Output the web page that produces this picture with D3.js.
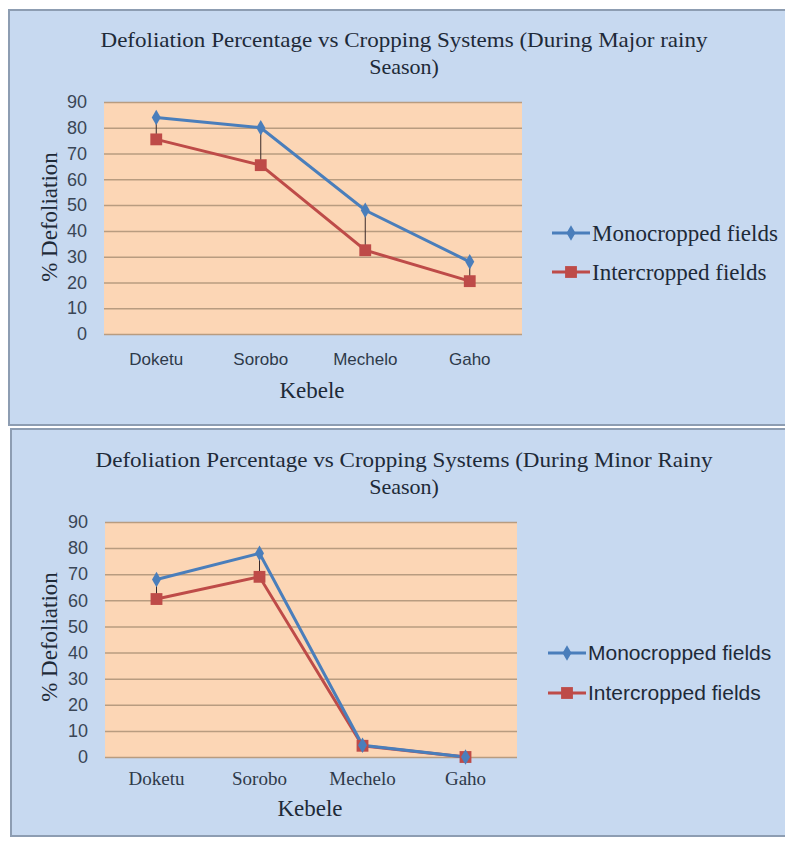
<!DOCTYPE html>
<html><head><meta charset="utf-8">
<script src="https://cdn.jsdelivr.net/npm/d3@7"></script>
<style>body{margin:0;background:#fff;}svg{display:block;}</style>
</head><body>
<svg id="chart" width="785" height="841"></svg>
<script>
const categories = ["Doketu", "Sorobo", "Mechelo", "Gaho"];
const yTicks = [0, 10, 20, 30, 40, 50, 60, 70, 80, 90];
const seriesNames = ["Monocropped fields", "Intercropped fields"];
const majorMono = [84, 80, 48, 28];
const majorInter = [75.5, 65.5, 32.5, 20.5];
const minorMono = [68, 78, 4.5, 0];
const minorInter = [60.5, 69, 4.3, 0];
const titles = [
  ["Defoliation Percentage vs Cropping Systems (During Major rainy", "Season)"],
  ["Defoliation Percentage vs Cropping Systems (During Minor Rainy", "Season)"]
];

const svg = d3.select("#chart");
const serif = "'Liberation Serif','Times New Roman',serif";
const sans = "'Liberation Sans',Arial,sans-serif";
const blue = "#4a7ebb", red = "#be4b48";

function drawChart(cfg) {
  const g = svg.append("g");
  g.append("rect").attr("x", cfg.px).attr("y", cfg.py).attr("width", 800).attr("height", cfg.ph)
    .attr("fill", "#c7d9f0").attr("stroke", "#8d9db2").attr("stroke-width", 2);
  cfg.title.forEach((t, i) => {
    const tt = g.append("text").attr("x", cfg.titleX).attr("y", cfg.titleY + i * 27)
      .attr("text-anchor", "middle").attr("font-family", serif).attr("font-size", 22)
      .attr("fill", "#1e2a38").text(t);
    if (i === 0) tt.attr("textLength", cfg.titleW).attr("lengthAdjust", "spacingAndGlyphs");
  });
  const x = d3.scaleBand().domain(categories).range([cfg.x0, cfg.x1]);
  const y = d3.scaleLinear().domain([0, 90]).range([cfg.y0, cfg.y1]);
  g.append("rect").attr("x", cfg.x0).attr("y", cfg.y1).attr("width", cfg.x1 - cfg.x0)
    .attr("height", cfg.y0 - cfg.y1).attr("fill", "#fcd6b5");
  const yAxis = d3.axisLeft(y).tickValues(yTicks).tickSize(-(cfg.x1 - cfg.x0)).tickPadding(17);
  const ya = g.append("g").attr("transform", `translate(${cfg.x0},0)`).call(yAxis);
  ya.select(".domain").remove();
  ya.selectAll(".tick line").attr("stroke", "#b89c80").attr("stroke-width", 1.5);
  ya.selectAll(".tick text").attr("font-family", sans).attr("font-size", 18).attr("fill", "#3a4656");
  const xAxis = d3.axisBottom(x).tickSize(0).tickPadding(cfg.catPad);
  const xa = g.append("g").attr("transform", `translate(0,${cfg.y0})`).call(xAxis);
  xa.select(".domain").remove();
  xa.selectAll(".tick text").attr("font-family", cfg.catFont).attr("font-size", cfg.catSize).attr("fill", "#2e3a4a");
  g.append("text").attr("x", cfg.kx).attr("y", cfg.ky).attr("text-anchor", "middle")
    .attr("font-family", serif).attr("font-size", 23).attr("fill", "#1e2a38").text("Kebele");
  g.append("text").attr("transform", `translate(${cfg.ylx},${cfg.yly}) rotate(-90)`).attr("text-anchor", "middle")
    .attr("font-family", serif).attr("font-size", 23).attr("fill", "#1e2a38").text("% Defoliation");
  const cx = d => x(d) + x.bandwidth() / 2;
  categories.forEach((c, i) => {
    g.append("line").attr("x1", cx(c)).attr("x2", cx(c)).attr("y1", y(cfg.mono[i])).attr("y2", y(cfg.inter[i]))
      .attr("stroke", "#3a2a2a").attr("stroke-width", 1);
  });
  const line = d3.line().x((d, i) => cx(categories[i])).y(d => y(d));
  g.append("path").datum(cfg.inter).attr("d", line).attr("fill", "none").attr("stroke", red).attr("stroke-width", 3);
  g.append("path").datum(cfg.mono).attr("d", line).attr("fill", "none").attr("stroke", blue).attr("stroke-width", 3);
  const sq = d3.symbol().type(d3.symbolSquare).size(140);
  const di = d3.symbol().type(d3.symbolDiamond).size(70);
  g.selectAll(".sq").data(cfg.inter).join("path").attr("d", sq)
    .attr("transform", (d, i) => `translate(${cx(categories[i])},${y(d)})`).attr("fill", red);
  g.selectAll(".di").data(cfg.mono).join("path").attr("d", di)
    .attr("transform", (d, i) => `translate(${cx(categories[i])},${y(d)})`).attr("fill", blue);
  [[blue, di, seriesNames[0]], [red, sq, seriesNames[1]]].forEach((s, i) => {
    const ly = cfg.legY + i * cfg.legGap;
    g.append("line").attr("x1", cfg.legX).attr("x2", cfg.legX + 38).attr("y1", ly).attr("y2", ly)
      .attr("stroke", s[0]).attr("stroke-width", 3);
    g.append("path").attr("d", s[1]).attr("transform", `translate(${cfg.legX + 19},${ly})`).attr("fill", s[0]);
    g.append("text").attr("x", cfg.legX + 40).attr("y", ly).attr("dy", "0.35em")
      .attr("font-family", cfg.legFont).attr("font-size", cfg.legSize).attr("fill", "#1e2a38").text(s[2]);
  });
}

drawChart({px: 9, py: 10, ph: 415, title: titles[0], titleX: 404, titleY: 47, titleW: 607,
  x0: 104, x1: 522, y0: 334, y1: 102, mono: majorMono, inter: majorInter,
  catFont: sans, catSize: 17, catPad: 19, kx: 312, ky: 398, ylx: 57, yly: 217,
  legX: 552, legY: 233, legGap: 39, legFont: serif, legSize: 23});
drawChart({px: 11, py: 429, ph: 407, title: titles[1], titleX: 404, titleY: 467, titleW: 617,
  x0: 105, x1: 517, y0: 757, y1: 522, mono: minorMono, inter: minorInter,
  catFont: serif, catSize: 19, catPad: 15, kx: 310, ky: 816, ylx: 57, yly: 637,
  legX: 548, legY: 653, legGap: 40, legFont: sans, legSize: 21});
</script>
</body></html>
